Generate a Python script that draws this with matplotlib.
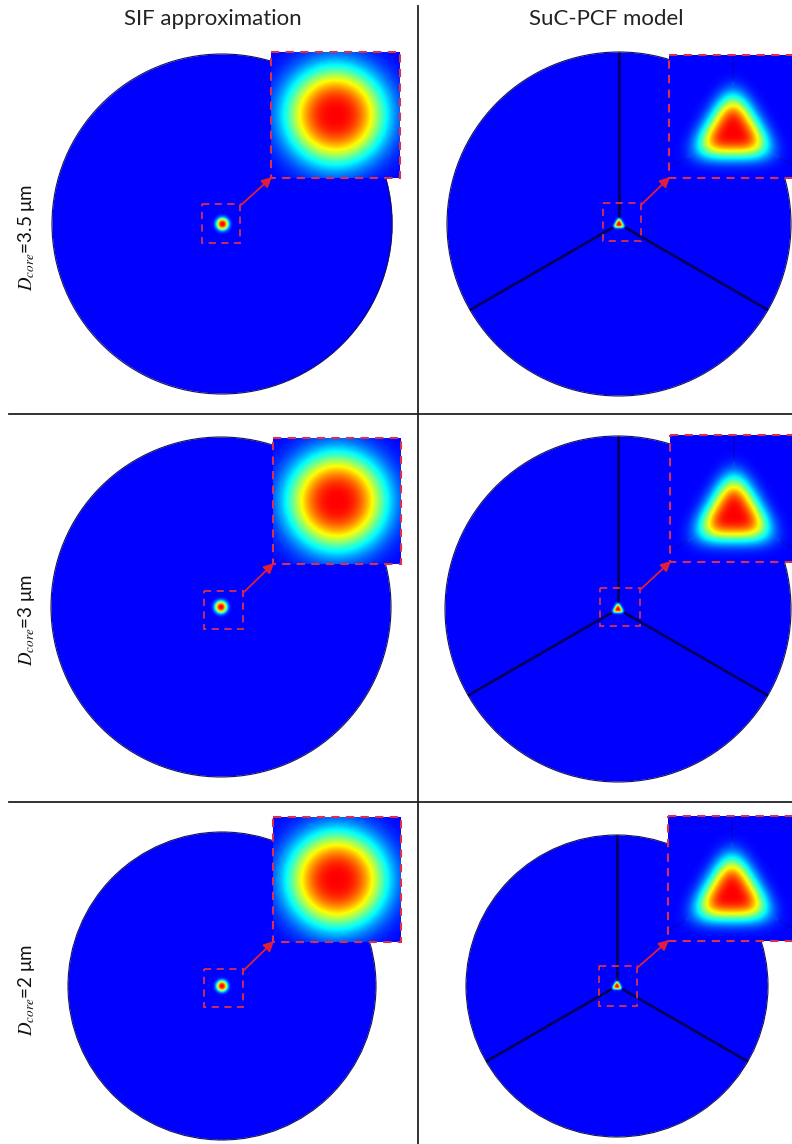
import numpy as np
import matplotlib
matplotlib.use('Agg')
import matplotlib.pyplot as plt
from matplotlib.colors import LinearSegmentedColormap
from matplotlib.patches import Circle, Rectangle

plt.rcParams['font.family'] = ['Lato', 'DejaVu Sans']
plt.rcParams['mathtext.fontset'] = 'stix'

W, H = 792, 1144

# Тексти та параметри
col_titles = ['SIF approximation', 'SuC-PCF model']
core_diameters = ['3.5', '3', '2']
strut_angles = [90, 210, 330]

# Розкладка (пікселі): центр і радіус волокна для кожного рядка / стовпця
circle_cx = [[222, 619], [221, 618], [222, 617]]
circle_cy = [[224, 224], [607, 609], [986, 986]]
circle_r = [[170, 172], [170, 173], [154, 151]]
zoom_box = [[(202, 204, 240, 243), (603, 203, 641, 241)],
            [(204, 591, 243, 629), (600, 588, 640, 626)],
            [(204, 969, 243, 1007), (599, 966, 637, 1006)]]
inset_box = [[(271, 52, 400, 178), (669, 55, 797, 178)],
             [(273, 438, 401, 564), (670, 435, 798, 562)],
             [(273, 817, 401, 942), (668, 816, 796, 941)]]
label_y = [237, 620, 990]
hlines_y = [414, 802]
vline_x = 418

# "jet" без темних кінців: від синього до червоного
cmap = LinearSegmentedColormap.from_list(
    'jet_mid', ['#0000ff', '#0080ff', '#00ffff', '#80ff80',
                '#ffff00', '#ff8000', '#ff0000'])
cmap.set_bad((1, 1, 1, 0))

red_dash = '#d8304f'
strut_col = '#000058'


def sif_field(X, Y, w=0.77, n=2.7):
    r = np.hypot(X, Y)
    return np.exp(-(r / w) ** n)


def suc_field(X, Y, wc=0.47, n=3.0, a=0.45, rho=0.42, tail=0.28):
    r = np.hypot(X, Y)
    th = np.arctan2(Y, X)
    core = np.exp(-(r / wc) ** n * (1 - a * np.cos(3 * (th - np.pi / 2))))
    normals = np.deg2rad([270, 30, 150])
    d = np.max(np.stack([X * np.cos(b) + Y * np.sin(b) for b in normals]), axis=0)
    tri = tail * np.exp(-(r / 1.0) ** 2) / (1 + np.exp((d - rho) / 0.035))
    return np.maximum(core, tri)


def px_axes(fig, x0, y0, x1, y1):
    return fig.add_axes([x0 / W, 1 - y1 / H, (x1 - x0) / W, (y1 - y0) / H])


fig = plt.figure(figsize=(W / 100, H / 100), dpi=100)

g = np.linspace(-1, 1, 901)
X, Y = np.meshgrid(g, g)
R = np.hypot(X, Y)

gi = np.linspace(-1, 1, 401)
Xi, Yi = np.meshgrid(gi, gi)

# розмір моди на повному перерізі відносно вставки
mode_scale = [0.046, 0.05]

for i in range(3):
    for j in range(2):
        cx, cy, r = circle_cx[i][j], circle_cy[i][j], circle_r[i][j]
        ax = px_axes(fig, cx - r - 2, cy - r - 2, cx + r + 2, cy + r + 2)
        lim = (r + 2) / r
        Xm, Ym = X * lim / mode_scale[j], Y * lim / mode_scale[j]
        F = sif_field(Xm, Ym) if j == 0 else suc_field(Xm, Ym)
        F = np.ma.masked_where(R * lim > 1, F)
        ax.imshow(F, cmap=cmap, vmin=0, vmax=1, origin='lower',
                  extent=[-lim, lim, -lim, lim], interpolation='bilinear')
        ax.add_patch(Circle((0, 0), 1, fill=False, ec='#14145a', lw=0.8))
        if j == 1:
            for a in np.deg2rad(strut_angles):
                ax.plot([0.04 * np.cos(a), np.cos(a)], [0.04 * np.sin(a), np.sin(a)],
                        color=strut_col, lw=1.9, solid_capstyle='butt')
        ax.set_xlim(-lim, lim)
        ax.set_ylim(-lim, lim)
        ax.axis('off')

        # збільшена вставка
        x0, y0, x1, y1 = inset_box[i][j]
        axi = px_axes(fig, x0, y0, x1, y1)
        if j == 0:
            Fi = sif_field(Xi, Yi)
        else:
            Fi = suc_field(Xi, Yi + 0.25)
        axi.imshow(Fi, cmap=cmap, vmin=0, vmax=1, origin='lower',
                   extent=[-1, 1, -1, 1], aspect='auto', interpolation='bilinear')
        if j == 1:
            for a in np.deg2rad(strut_angles):
                axi.plot([0.85 * np.cos(a), 2 * np.cos(a)],
                         [0.85 * np.sin(a) - 0.25, 2 * np.sin(a) - 0.25],
                         color='#000080', lw=1.4, alpha=0.3)
        axi.set_xlim(-1, 1)
        axi.set_ylim(-1, 1)
        axi.axis('off')

# верхній шар: роздільники, рамки, стрілки
ov = fig.add_axes([0, 0, 1, 1])
ov.set_xlim(0, W)
ov.set_ylim(H, 0)
ov.axis('off')
ov.patch.set_alpha(0)

for y in hlines_y:
    ov.plot([9, W], [y, y], color='#222222', lw=1.3)
ov.plot([vline_x, vline_x], [6, H], color='#222222', lw=1.3)

for i in range(3):
    for j in range(2):
        bx0, by0, bx1, by1 = zoom_box[i][j]
        ov.add_patch(Rectangle((bx0, by0), bx1 - bx0, by1 - by0, fill=False,
                               ec=red_dash, lw=1.3, ls=(0, (4, 3))))
        x0, y0, x1, y1 = inset_box[i][j]
        ov.add_patch(Rectangle((x0, y0), x1 - x0, y1 - y0, fill=False,
                               ec=red_dash, lw=1.5, ls=(0, (4, 3))))
        ov.annotate('', xy=(x0 + 1, y1 - 1), xytext=(bx1, by0 + 2),
                    arrowprops=dict(arrowstyle='-|>', color='#e0203a', lw=1.3,
                                    mutation_scale=15, shrinkA=0, shrinkB=0))

col_x = [213, 606]
for x, t in zip(col_x, col_titles):
    fig.text(x / W, 1 - 19 / H, t, ha='center', va='center', fontsize=16, color='#222222')

for y, d in zip(label_y, core_diameters):
    fig.text(27 / W, 1 - y / H, r'$D_{core}$=' + d + ' μm', rotation=90,
             ha='center', va='center', fontsize=13.5, color='#111111')

fig.savefig('out.png', dpi=100)
